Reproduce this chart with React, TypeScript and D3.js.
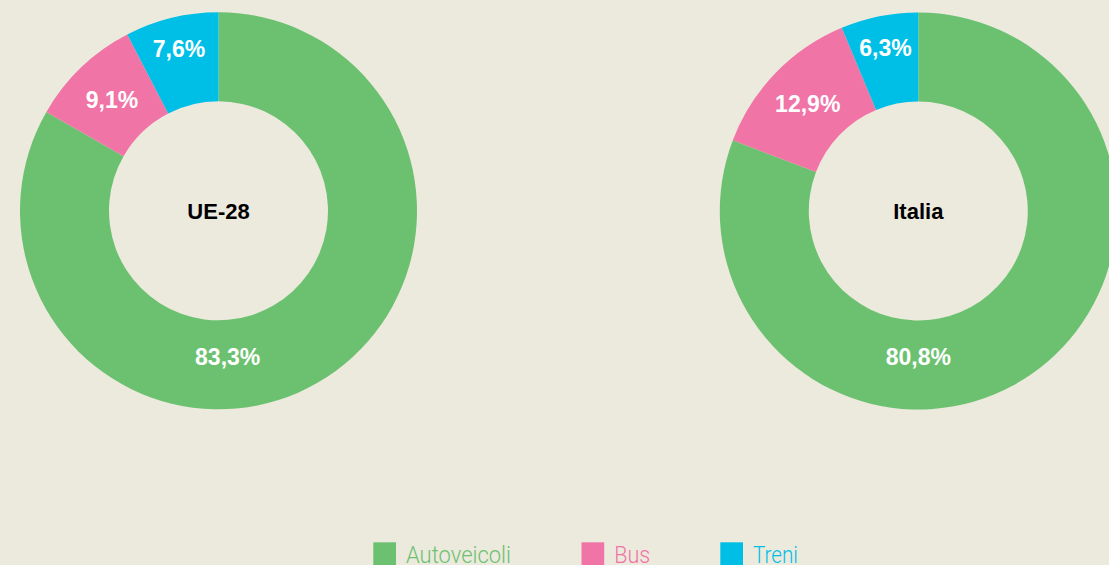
import React from "react";
import * as d3 from "d3";

const categories = ["Autoveicoli", "Bus", "Treni"];
const charts = ["UE-28", "Italia"];
const ue28Values = [83.3, 9.1, 7.6];
const italiaValues = [80.8, 12.9, 6.3];
const colors = ["#6cc171", "#f174a7", "#00bfe7"];

const W = 1109;
const H = 565;
const BG = "#ece9dd";

function fmt(v: number) {
  return v.toFixed(1).replace(".", ",") + "%";
}

function Donut({ cx, cy, values, title, mainAngle }: { cx: number; cy: number; values: number[]; title: string; mainAngle: number }) {
  const outer = 198.5;
  const inner = 109.5;
  const pie = d3.pie<number>().sort(null).value((d) => d);
  const arcs = pie(values);
  const arc = d3.arc<d3.PieArcDatum<number>>().innerRadius(inner).outerRadius(outer);
  const labelRadii = [146, 154, 167];
  return (
    <g transform={`translate(${cx},${cy})`}>
      {arcs.map((a, i) => (
        <path key={i} d={arc(a) || ""} fill={colors[i]} />
      ))}
      {arcs.map((a, i) => {
        const ang = i === 0 ? mainAngle : (a.startAngle + a.endAngle) / 2;
        const r = labelRadii[i];
        const x = r * Math.sin(ang);
        const y = -r * Math.cos(ang);
        return (
          <text
            key={"l" + i}
            x={x}
            y={y}
            dy="0.36em"
            textAnchor="middle"
            fill="#fff"
            fontWeight={700}
            fontSize={23}
            fontFamily="'Liberation Sans', Arial, sans-serif"
          >
            {fmt(values[i])}
          </text>
        );
      })}
      <text
        x={0}
        y={0}
        dy="0.36em"
        textAnchor="middle"
        fill="#000"
        fontWeight={700}
        fontSize={22}
        fontFamily="'Liberation Sans', Arial, sans-serif"
      >
        {title}
      </text>
    </g>
  );
}

export default function App() {
  const legendX = [373.3, 581.5, 720.3];
  const legendTextW = [105, 36, 45];
  return (
    <svg
      width={W}
      height={H}
      style={{ position: "absolute", left: 0, top: 0, display: "block" }}
    >
      <rect x={0} y={0} width={W} height={H} fill={BG} />
      <Donut cx={218.5} cy={210.8} values={ue28Values} title={charts[0]} mainAngle={Math.PI * 0.98} />
      <Donut cx={918.3} cy={211} values={italiaValues} title={charts[1]} mainAngle={Math.PI} />
      {categories.map((c, i) => (
        <g key={c}>
          <rect x={legendX[i]} y={542.3} width={22.7} height={22.7} fill={colors[i]} />
          <text
            x={legendX[i] + 32.7}
            y={563.3}
            fill={colors[i]}
            fontSize={24}
            fontWeight={300}
            fontFamily="Roboto, 'Liberation Sans', sans-serif"
            textLength={legendTextW[i]}
            lengthAdjust="spacingAndGlyphs"
          >
            {c}
          </text>
        </g>
      ))}
    </svg>
  );
}
